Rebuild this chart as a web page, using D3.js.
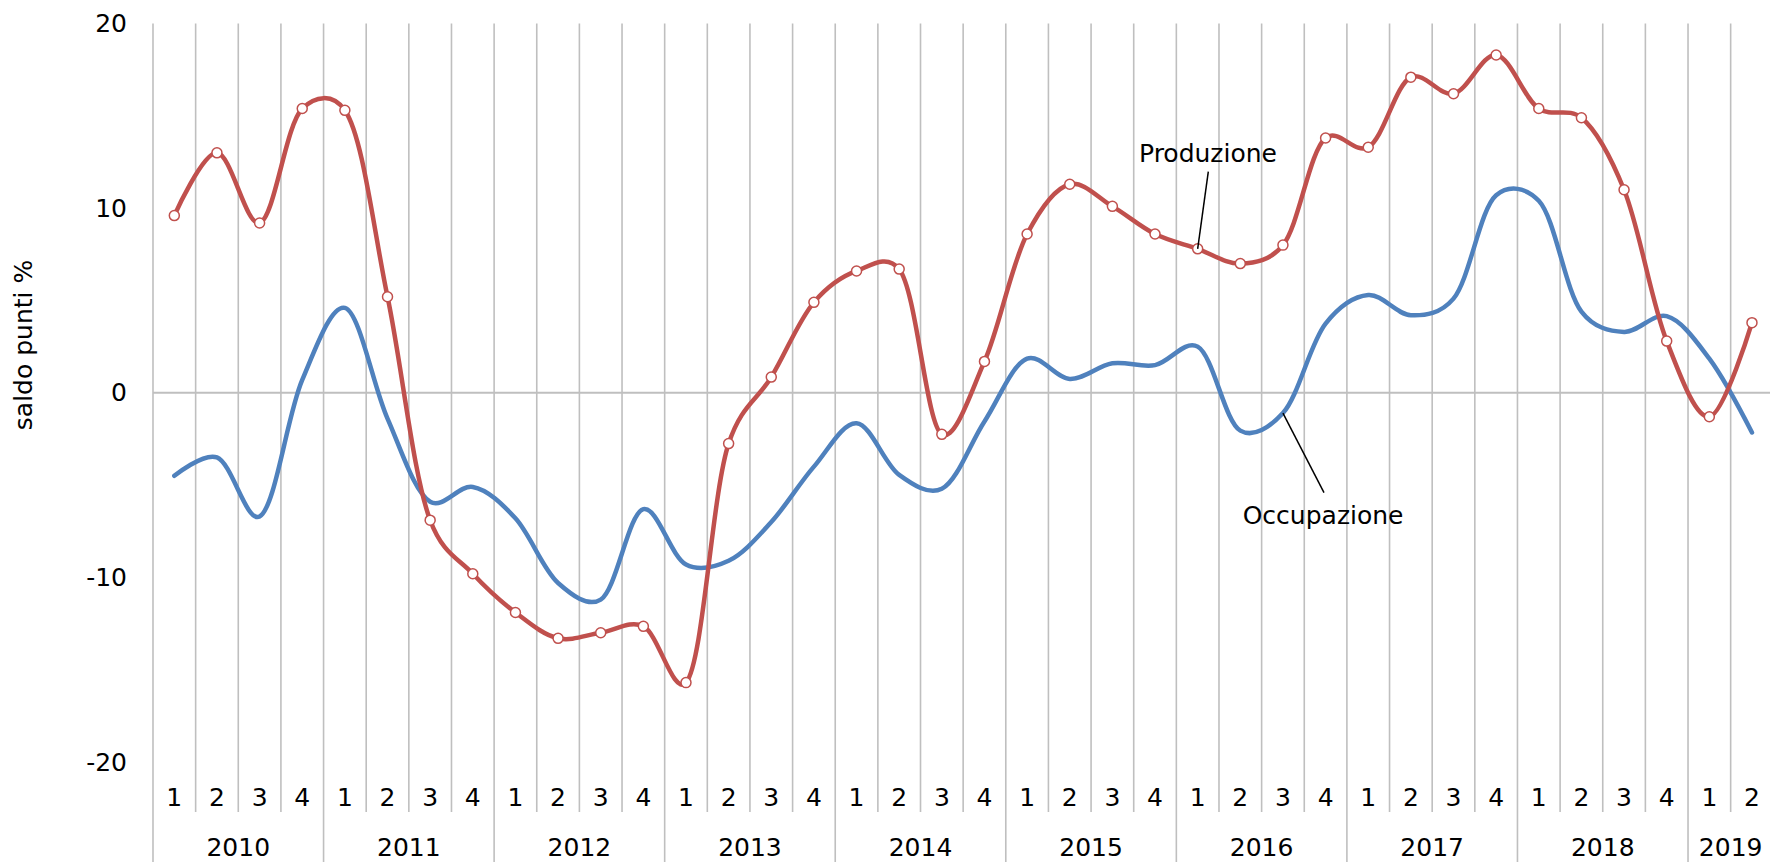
<!DOCTYPE html>
<html>
<head>
<meta charset="utf-8">
<script src="https://cdn.jsdelivr.net/npm/d3@7"></script>
<style>
  body { margin: 0; background: #fff; }
  svg { display: block; font-family: "DejaVu Sans", Verdana, sans-serif; }
</style>
</head>
<body>
<script>
// quarterly survey balances, 2010 Q1 - 2019 Q2
var years = ["2010", "2011", "2012", "2013", "2014", "2015", "2016", "2017", "2018", "2019"];
var quartersPerYear = [4, 4, 4, 4, 4, 4, 4, 4, 4, 2];
var quarterLabels = [];
years.forEach(function (y, i) {
    for (let q = 1; q <= quartersPerYear[i]; q++) quarterLabels.push(String(q));
});

var produzione = [
    9.6, 13.0, 9.2, 15.4,
    15.3, 5.2, -6.9, -9.8,
    -11.9, -13.3, -13.0, -12.65,
    -15.7, -2.75, 0.85, 4.9,
    6.6, 6.7, -2.25, 1.7,
    8.6, 11.3, 10.1, 8.6,
    7.8, 7.0, 8.0, 13.8,
    13.3, 17.1, 16.2, 18.3,
    15.4, 14.9, 11.0, 2.8,
    -1.3, 3.8
];

var occupazione = [
    -4.5, -3.5, -6.7, 0.7,
    4.6, -1.4, -5.9, -5.1,
    -6.8, -10.3, -11.2, -6.3,
    -9.3, -9.1, -7.0, -4.0,
    -1.65, -4.45, -5.2, -1.55,
    1.85, 0.75, 1.6, 1.5,
    2.5, -2.05, -1.1, 3.75,
    5.3, 4.2, 5.1, 10.7,
    10.4, 4.4, 3.3, 4.15,
    1.85, -2.15
];

var yTicks = [-20, -10, 0, 10, 20];

var width = 1770, height = 862;
var plotLeft = 153, plotRight = 1773.3, plotTop = 23.6, plotBottom = 762;
var red = "#C0504D", blue = "#4F81BD", grid = "#BFBFBF";

var svg = d3.select("body").append("svg")
    .attr("width", width)
    .attr("height", height);

var x = d3.scaleBand()
    .domain(d3.range(quarterLabels.length))
    .range([plotLeft, plotRight])
    .paddingInner(0)
    .paddingOuter(0);

var y = d3.scaleLinear().domain([-20, 20]).range([plotBottom, plotTop]);

var cx = (i) => x(i) + x.bandwidth() / 2;

// vertical separators: quarters stop above the year row, years go to the bottom
var yearStarts = [];
var acc = 0;
quartersPerYear.forEach(function (n) { yearStarts.push(acc); acc += n; });

svg.append("g")
    .selectAll("line")
    .data(d3.range(quarterLabels.length))
    .join("line")
    .attr("x1", (d) => x(d))
    .attr("x2", (d) => x(d))
    .attr("y1", y(20))
    .attr("y2", (d) => yearStarts.includes(d) ? height : 812)
    .attr("stroke", grid)
    .attr("stroke-width", 1.6);

// zero line
svg.append("line")
    .attr("x1", plotLeft)
    .attr("x2", width)
    .attr("y1", y(0))
    .attr("y2", y(0))
    .attr("stroke", grid)
    .attr("stroke-width", 2);

// y axis
var yAxis = svg.append("g")
    .attr("transform", "translate(" + plotLeft + ",0)")
    .call(d3.axisLeft(y).tickValues(yTicks).tickSize(0).tickPadding(26));
yAxis.select(".domain").remove();
yAxis.selectAll("text")
    .attr("font-size", 25)
    .attr("font-family", "DejaVu Sans, Verdana, sans-serif")
    .attr("fill", "#000")
    .text((d) => String(d));

svg.append("text")
    .attr("transform", "translate(31.5,345) rotate(-90)")
    .attr("text-anchor", "middle")
    .attr("font-size", 25)
    .attr("fill", "#000")
    .text("saldo punti %");

// quarter labels
var xAxis = svg.append("g")
    .attr("transform", "translate(0,788)")
    .call(d3.axisBottom(x).tickSize(0).tickPadding(0).tickFormat((d) => quarterLabels[d]));
xAxis.select(".domain").remove();
xAxis.selectAll("text")
    .attr("font-size", 25)
    .attr("font-family", "DejaVu Sans, Verdana, sans-serif")
    .attr("fill", "#000");

// year labels
svg.append("g")
    .selectAll("text")
    .data(years)
    .join("text")
    .attr("x", (d, i) => (x(yearStarts[i]) + x(yearStarts[i] + quartersPerYear[i] - 1) + x.bandwidth()) / 2)
    .attr("y", 856)
    .attr("text-anchor", "middle")
    .attr("font-size", 25)
    .attr("fill", "#000")
    .text((d) => d);

var line = d3.line()
    .x((d, i) => cx(i))
    .y((d) => y(d))
    .curve(d3.curveCatmullRom.alpha(0.25));

svg.append("path")
    .datum(occupazione)
    .attr("d", line)
    .attr("fill", "none")
    .attr("stroke", blue)
    .attr("stroke-width", 4.5)
    .attr("stroke-linecap", "round")
    .attr("stroke-linejoin", "round");

svg.append("path")
    .datum(produzione)
    .attr("d", line)
    .attr("fill", "none")
    .attr("stroke", red)
    .attr("stroke-width", 4.5)
    .attr("stroke-linecap", "round")
    .attr("stroke-linejoin", "round");

svg.append("g")
    .selectAll("circle")
    .data(produzione)
    .join("circle")
    .attr("cx", (d, i) => cx(i))
    .attr("cy", (d) => y(d))
    .attr("r", 5)
    .attr("fill", "#fff")
    .attr("stroke", red)
    .attr("stroke-width", 1.5);

// series labels with leader lines
svg.append("line")
    .attr("x1", 1208.3).attr("y1", 171.7)
    .attr("x2", cx(24)).attr("y2", y(produzione[24]))
    .attr("stroke", "#000").attr("stroke-width", 1.5);
svg.append("text")
    .attr("x", 1139).attr("y", 161.7)
    .attr("font-size", 25).attr("fill", "#000")
    .text("Produzione");

svg.append("line")
    .attr("x1", 1324).attr("y1", 492.7)
    .attr("x2", cx(26)).attr("y2", y(occupazione[26]))
    .attr("stroke", "#000").attr("stroke-width", 1.5);
svg.append("text")
    .attr("x", 1242.7).attr("y", 524)
    .attr("font-size", 25).attr("fill", "#000")
    .text("Occupazione");
</script>
</body>
</html>
